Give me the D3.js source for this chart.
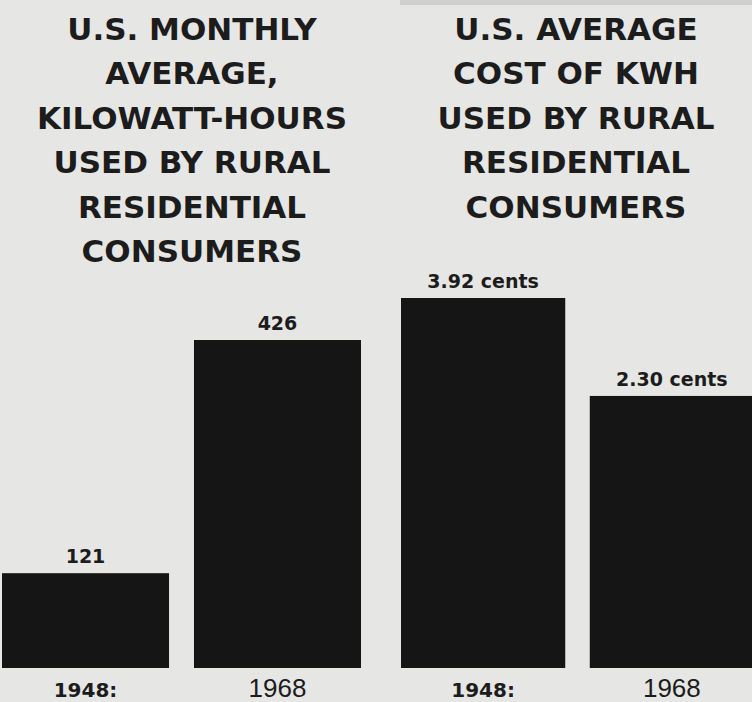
<!DOCTYPE html>
<html>
<head>
<meta charset="utf-8">
<script src="https://cdn.jsdelivr.net/npm/d3@7"></script>
<style>
	body { margin: 0; background: #e6e6e4; }
	svg { display: block; }
	text { font-family: "DejaVu Sans", sans-serif; fill: #1c1c1c; }
</style>
</head>
<body>
<svg id="chart" width="752" height="702"></svg>
<script>

// data
var years = ["1948", "1968"];
var yearLabels = ["1948:", "1968"];
var kwhValues = [121, 426];
var kwhLabels = ["121", "426"];
var costValues = [3.92, 2.30];
var costLabels = ["3.92 cents", "2.30 cents"];

var kwhTitle = ["U.S. MONTHLY", "AVERAGE,", "KILOWATT-HOURS", "USED BY RURAL", "RESIDENTIAL", "CONSUMERS"];
var costTitle = ["U.S. AVERAGE", "COST OF KWH", "USED BY RURAL", "RESIDENTIAL", "CONSUMERS"];

var svg = d3.select("#chart");
var baseY = 668;

// scan artifact strip along top right
svg.append("rect")
	.attr("x", 400).attr("y", 0)
	.attr("width", 352).attr("height", 5)
	.attr("fill", "#cfcfcd");

function drawPanel(cfg)
{
	var g = svg.append("g");

	var x = d3.scaleBand()
		.domain(years)
		.range(cfg.xRange)
		.paddingInner(0.13)
		.paddingOuter(0);

	var y = d3.scaleLinear()
		.domain(cfg.yDomain)
		.range([baseY, cfg.topY]);

	// title
	g.selectAll("text.title")
		.data(cfg.title)
		.enter()
		.append("text")
		.attr("class", "title")
		.attr("x", cfg.titleX)
		.attr("y", function (d, i) { return 40 + i * 44.4 })
		.attr("text-anchor", "middle")
		.style("font-size", "31px")
		.style("font-weight", "bold")
		.text(function (d) { return d });

	// bars
	g.selectAll("rect.bar")
		.data(cfg.values)
		.enter()
		.append("rect")
		.attr("class", "bar")
		.attr("x", function (d, i) { return x(years[i]) })
		.attr("y", function (d) { return y(d) })
		.attr("width", x.bandwidth())
		.attr("height", function (d) { return baseY - y(d) })
		.attr("fill", "#151515");

	// value labels
	g.selectAll("text.val")
		.data(cfg.values)
		.enter()
		.append("text")
		.attr("class", "val")
		.attr("x", function (d, i) { return x(years[i]) + x.bandwidth() / 2 })
		.attr("y", function (d) { return y(d) - 10 })
		.attr("text-anchor", "middle")
		.style("font-size", "19px")
		.style("font-weight", "bold")
		.text(function (d, i) { return cfg.labels[i] });

	// year labels
	g.selectAll("text.year")
		.data(yearLabels)
		.enter()
		.append("text")
		.attr("class", "year")
		.attr("x", function (d, i) { return x(years[i]) + x.bandwidth() / 2 })
		.attr("y", 697)
		.attr("text-anchor", "middle")
		.style("font-family", function (d, i) { return i == 0 ? "DejaVu Sans" : "Liberation Sans" })
		.style("font-size", function (d, i) { return i == 0 ? "20px" : "26px" })
		.style("font-weight", function (d, i) { return i == 0 ? "bold" : "normal" })
		.text(function (d) { return d });
}

drawPanel({
	title: kwhTitle,
	titleX: 192,
	xRange: [2, 361],
	yDomain: [-3, 426],
	topY: 340,
	values: kwhValues,
	labels: kwhLabels
});

// the original artwork is not drawn to scale, so the cost axis starts below zero
drawPanel({
	title: costTitle,
	titleX: 576,
	xRange: [401, 754],
	yDomain: [-2.2, 3.92],
	topY: 298,
	values: costValues,
	labels: costLabels
});

</script>
</body>
</html>
